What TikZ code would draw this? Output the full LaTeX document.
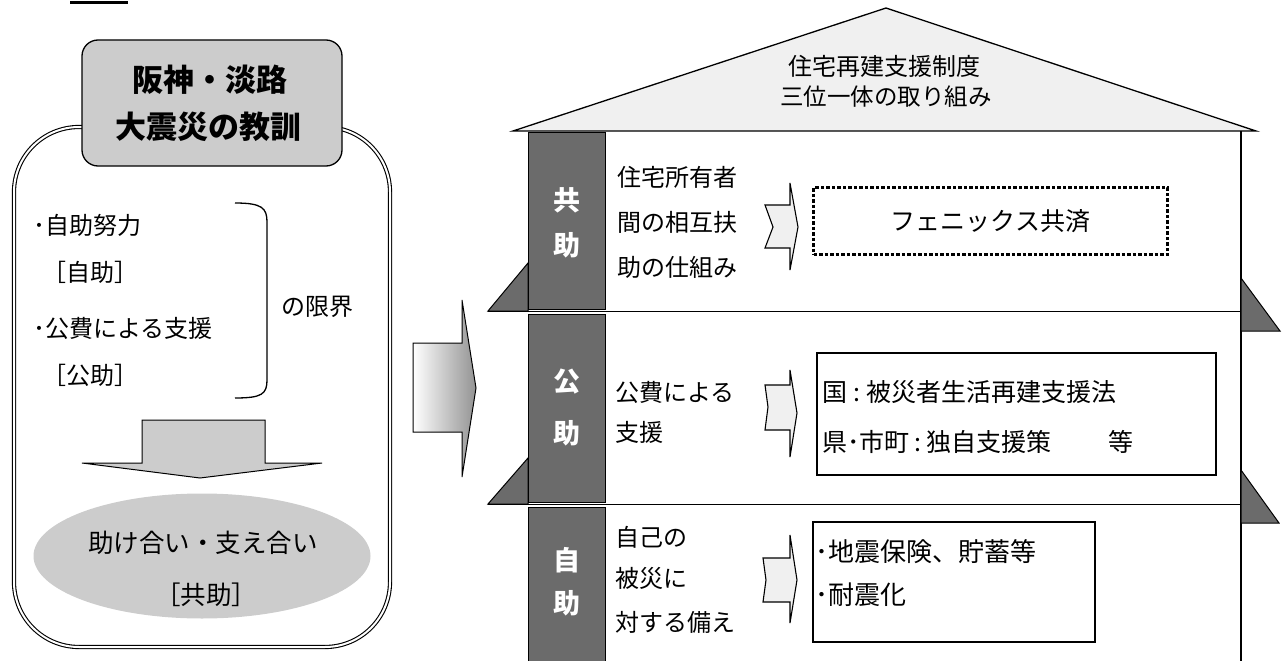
\documentclass[tikz,border=0pt]{standalone}
\usepackage{fontspec}
\setmainfont{Noto Sans CJK JP}
\usetikzlibrary{shapes.geometric}
\definecolor{speck}{gray}{0.80}
\definecolor{roofgray}{gray}{0.94}
\definecolor{darkspeck}{gray}{0.42}
\begin{document}
\begin{tikzpicture}[x=1pt,y=-1pt,
  txt/.style={inner sep=0pt, anchor=west, font=\fontsize{24}{28}\selectfont},
  boxtxt/.style={inner sep=0pt, anchor=west, font=\fontsize{25}{29}\selectfont},
  ctxt/.style={inner sep=0pt, font=\fontsize{24}{28}\selectfont},
  titletxt/.style={inner sep=0pt, font=\bfseries\fontsize{31}{34}\selectfont},
  coltxt/.style={inner sep=0pt, text=white, font=\bfseries\fontsize{27}{30}\selectfont},
  colpart/.style={draw, line width=1pt, fill=darkspeck},
  eave/.style={draw, line width=1pt, fill=darkspeck},
  sep/.style={line width=1.6pt},
  smallarrow/.style={draw, line width=1.1pt, fill=gray!12, line join=miter},
  infobox/.style={draw, line width=1.3pt, inner sep=0pt}
]
\useasboundingbox (0,0) rectangle (1283,661);

% stray underline mark at top-left
\draw[line width=3pt] (70,2.5) -- (128,2.5);

% ---------------- left panel ----------------
\draw[double, line width=1.1pt, double distance=2pt, rounded corners=65pt] (14,127) rectangle (390,647);
\node[draw, line width=1.3pt, fill=speck, rounded corners=16pt, minimum width=260pt, minimum height=126pt, inner sep=0pt] (title) at (212,103) {};
\node[titletxt] (t1) at (210,80) {阪神・淡路};
\node[titletxt] (t2) at (208,127) {大震災の教訓};

\node[txt] (i1) at (33,225) {･自助努力};
\node[txt] (i2) at (42,272) {［自助］};
\node[txt] (i3) at (33,328) {･公費による支援};
\node[txt] (i4) at (42,375) {［公助］};

\draw[line width=1.3pt] (235,203) .. controls (262,203) and (267,208) .. (267,222) -- (267,380) .. controls (267,394) and (262,398) .. (235,398);
\node[txt] (limit) at (281,307) {の限界};

% down arrow
\draw[line width=1pt, fill=speck, line join=miter] (142,420) -- (265,420) -- (265,463) -- (322,463) -- (200,478) -- (82,463) -- (142,463) -- cycle;

% ellipse
\node[ellipse, fill=speck, minimum width=337pt, minimum height=125pt, inner sep=0pt] (mutual) at (202,556) {};
\node[ctxt, font=\fontsize{25.5}{28}\selectfont] (m1) at (203,543) {助け合い・支え合い};
\node[ctxt, font=\fontsize{25.5}{28}\selectfont] (m2) at (206,595) {［共助］};

% middle arrow
\path[draw, line width=1pt, left color=white, right color=gray!85, line join=miter]
  (413,343) -- (462,343) -- (462,300) -- (476,388) -- (462,477) -- (462,432) -- (413,432) -- cycle;

% ---------------- house ----------------
\draw[line width=1.3pt, fill=roofgray, line join=miter] (513,131) -- (886,8) -- (1256,131) -- cycle;
\node[ctxt] (r1) at (884,66) {住宅再建支援制度};
\node[ctxt, font=\fontsize{23.5}{28}\selectfont] (r2) at (886,97) {三位一体の取り組み};

\draw[line width=1.3pt] (1241,131) -- (1241,661);

% eaves
\draw[eave] (488,311) -- (528,263) -- (528,311) -- cycle;
\draw[eave] (488,504) -- (528,458) -- (528,504) -- cycle;
\draw[eave] (1241,278) -- (1280,331) -- (1241,331) -- cycle;
\draw[eave] (1241,470) -- (1279,523) -- (1241,523) -- cycle;

% column
\draw[colpart] (528,132) rectangle (605,309);
\draw[colpart] (528,314) rectangle (605,502);
\draw[colpart] (528,507) rectangle (605,662);

\draw[sep] (488,311.5) -- (1241,311.5);
\draw[sep] (488,504.5) -- (1241,504.5);

\node[coltxt] (c1) at (567,200) {共};
\node[coltxt] (c2) at (567,245) {助};
\node[coltxt] (c3) at (567,382) {公};
\node[coltxt] (c4) at (567,433) {助};
\node[coltxt] (c5) at (567,560) {自};
\node[coltxt] (c6) at (567,603) {助};

% band texts
\node[txt] (a1) at (617,177) {住宅所有者};
\node[txt] (a2) at (617,222) {間の相互扶};
\node[txt] (a3) at (617,267) {助の仕組み};
\node[txt] (b1) at (615,392) {公費による};
\node[txt] (b2) at (615,432) {支援};
\node[txt] (d1) at (615,537) {自己の};
\node[txt] (d2) at (615,578) {被災に};
\node[txt] (d3) at (615,622) {対する備え};

% small arrows
\draw[smallarrow] (765,205) -- (790,205) -- (790,183) -- (798,227) -- (790,270) -- (790,248) -- (765,248) -- (773,227) -- cycle;
\draw[smallarrow] (765,385) -- (790,385) -- (790,370) -- (797,413) -- (790,457) -- (790,430) -- (765,430) -- (768,407) -- cycle;
\draw[smallarrow] (763,558) -- (790,558) -- (790,535) -- (797,580) -- (790,623) -- (790,602) -- (763,602) -- (766,580) -- cycle;

% boxes
\node[draw, line width=3pt, dash pattern=on 3.5pt off 2pt, minimum width=354pt, minimum height=67pt, inner sep=0pt, font=\fontsize{25}{29}\selectfont] (phoenix) at (990.5,221) {フェニックス共済};

\node[infobox, minimum width=399pt, minimum height=122pt] (public) at (1016.5,414) {};
\node[boxtxt] (p1) at (822,392) {国\hspace{6pt}:\hspace{6pt}被災者生活再建支援法};
\node[boxtxt] (p2) at (822,442) {県･市町\hspace{5pt}:\hspace{5pt}独自支援策\hspace{57pt}等};

\node[infobox, minimum width=282pt, minimum height=120pt] (self) at (954,582) {};
\node[boxtxt, font=\fontsize{26}{29}\selectfont] (s1) at (815,552) {･地震保険、貯蓄等};
\node[boxtxt, font=\fontsize{26}{29}\selectfont] (s2) at (815,595) {･耐震化};
\end{tikzpicture}
\end{document}
